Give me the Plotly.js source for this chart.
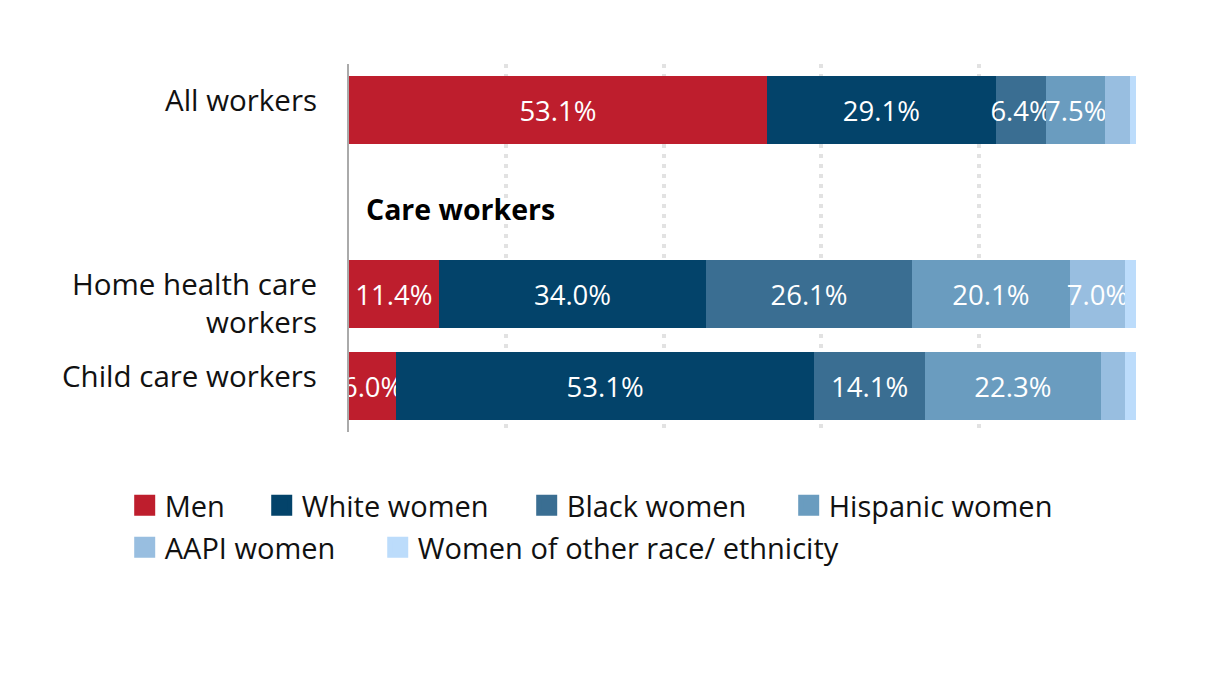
<!DOCTYPE html>
<html>
<head>
<meta charset="utf-8">
<script src="https://cdn.plot.ly/plotly-3.0.1.min.js"></script>
<style>
  html, body { margin: 0; padding: 0; background: #fff; }
  #chart { width: 1216px; height: 700px; }
</style>
</head>
<body>
<div id="chart"></div>
<script>
// ---- data ----
const categories = ["All workers", "Care workers", "Home health care workers", "Child care workers"];
const categoryLabels = ["All workers", "", "Home health care<br>workers", "Child care workers"];
const barCategories = ["All workers", "Home health care workers", "Child care workers"];
const seriesNames = ["Men", "White women", "Black women", "Hispanic women", "AAPI women", "Women of other race/ ethnicity"];
const men = [53.1, 11.4, 6.0];
const whiteWomen = [29.1, 34.0, 53.1];
const blackWomen = [6.4, 26.1, 14.1];
const hispanicWomen = [7.5, 20.1, 22.3];
const aapiWomen = [3.2, 7.0, 3.1];
const otherWomen = [0.7, 1.4, 1.4];
const sectionHeader = "Care workers";

const seriesValues = [men, whiteWomen, blackWomen, hispanicWomen, aapiWomen, otherWomen];
const colors = ["#be1e2d", "#03436a", "#3a6e92", "#6a9cbf", "#98bee0", "#bcdcfb"];
const FONT = "'Open Sans', sans-serif";

// legend layout: one legend per entry, two rows (x in paper units, y in paper units)
const legendIds = ["legend", "legend2", "legend3", "legend4", "legend5", "legend6"];
const legendX = [-0.2850, -0.1109, 0.2258, 0.5587, -0.2850, 0.0365];
const legendY = [-0.1304, -0.1304, -0.1304, -0.1304, -0.2445, -0.2445];

const traces = [];
seriesValues.forEach((vals, i) => {
  traces.push({
    type: "bar",
    orientation: "h",
    name: seriesNames[i],
    y: barCategories,
    x: vals,
    width: 0.74,
    marker: { color: colors[i], line: { width: 0 } },
    text: vals.map(v => v >= 5 ? v.toFixed(1) + "%" : ""),
    textposition: "inside",
    insidetextanchor: "middle",
    textangle: 0,
    constraintext: "none",
    textfont: { color: "#ffffff", size: 27.5, family: FONT },
    cliponaxis: true,
    showlegend: false,
    hoverinfo: "x+name",
    legendgroup: seriesNames[i]
  });
});
// legend swatches (same series, square symbols)
seriesNames.forEach((name, i) => {
  traces.push({
    type: "scatter",
    mode: "markers",
    name: name,
    x: [null],
    y: [null],
    marker: { symbol: "square", size: 16, color: colors[i], line: { color: colors[i], width: 5 } },
    showlegend: true,
    legend: legendIds[i],
    legendgroup: name,
    hoverinfo: "skip"
  });
});

const annotations = [];
categories.forEach((c, i) => {
  if (!categoryLabels[i]) return;
  annotations.push({
    xref: "paper", yref: "y", x: 0, y: c,
    xanchor: "right", yanchor: "middle",
    xshift: -30, yshift: (i === 0 || i === 3) ? 11 : -8,
    text: categoryLabels[i], align: "right", showarrow: false,
    font: { family: FONT, size: 29.5, color: "#111" }
  });
});
annotations.push({
  xref: "paper", yref: "y", x: 0, y: sectionHeader,
  xanchor: "left", yanchor: "middle", xshift: 15, yshift: -7,
  text: "<b>" + sectionHeader + "</b>", showarrow: false,
  font: { family: FONT, size: 28.5, color: "#000" }
});

const layout = {
  width: 1216, height: 700,
  margin: { l: 349, r: 80, t: 64, b: 268 },
  paper_bgcolor: "#fff", plot_bgcolor: "#fff",
  barmode: "stack",
  font: { family: FONT, size: 26, color: "#111" },
  xaxis: {
    range: [0, 100], dtick: 20, tick0: 0,
    showticklabels: false, ticks: "",
    showgrid: true, gridcolor: "#e2e2e2", gridwidth: 4, griddash: "4px,6px",
    zeroline: false, showline: false, fixedrange: true
  },
  yaxis: {
    type: "category",
    categoryorder: "array", categoryarray: categories,
    range: [3.5, -0.5],
    tickmode: "array", tickvals: categories, ticktext: categories.map(() => ""),
    showgrid: false, zeroline: false, ticks: "",
    showline: true, linecolor: "#aaaaaa", linewidth: 2, fixedrange: true
  },
  showlegend: true,
  annotations: annotations
};
legendIds.forEach((id, i) => {
  layout[id] = {
    orientation: "h",
    x: legendX[i], xanchor: "left",
    y: legendY[i], yanchor: "top",
    font: { family: FONT, size: 29, color: "#111" },
    itemclick: false, itemdoubleclick: false,
    bgcolor: "rgba(0,0,0,0)"
  };
});

Plotly.newPlot("chart", traces, layout, { displayModeBar: false, staticPlot: true });
</script>
</body>
</html>
